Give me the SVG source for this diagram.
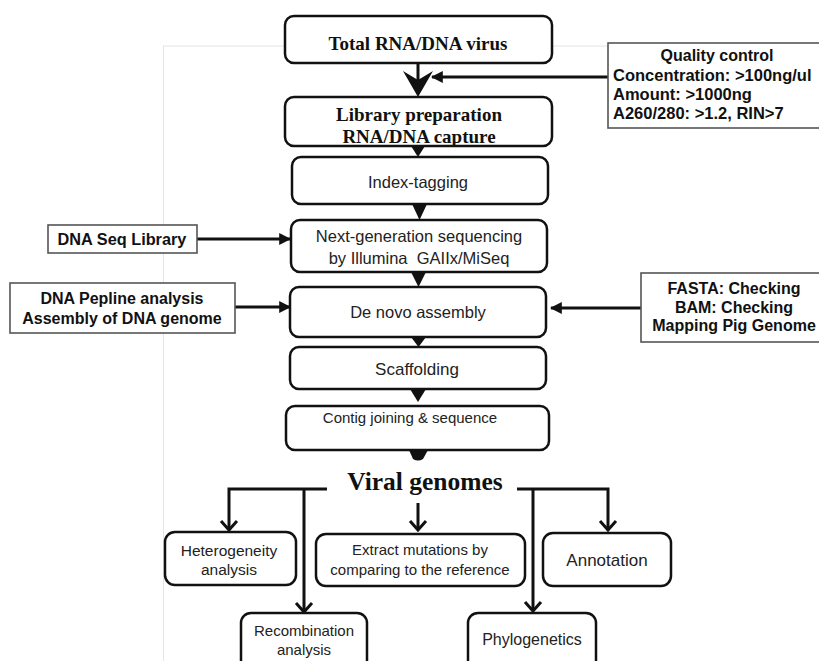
<svg xmlns="http://www.w3.org/2000/svg" width="819" height="661" viewBox="0 0 819 661">
<style>
.rb{fill:#fff;stroke:#111;stroke-width:2.5}
.sb{fill:#fff;stroke:#555;stroke-width:1.6}
.tb{font-family:"Liberation Serif",serif;font-weight:bold;fill:#111;text-anchor:middle}
.ts{font-family:"Liberation Sans",Arial,sans-serif;fill:#222;text-anchor:middle}
.tsb{font-family:"Liberation Sans",Arial,sans-serif;font-weight:bold;fill:#111}
.ln{stroke:#111;stroke-width:3;fill:none}
.chev{stroke:#111;stroke-width:3;fill:none;stroke-linejoin:miter}
.tri{fill:#111}
.art{stroke:#e4e4e4;stroke-width:1;fill:none}
</style>
<defs>
<marker id="ah" viewBox="0 0 10 10" refX="9" refY="5" markerWidth="4" markerHeight="4" orient="auto" markerUnits="strokeWidth">
<path d="M0,0 L10,5 L0,10 z" fill="#111"/>
</marker>
</defs>
<rect width="819" height="661" fill="#fff"/>
<g id="artifacts">
<path class="art" d="M163,46 H610 M163.5,46 V661"/>
</g>

<g id="connectors">
<path class="ln" d="M418,63 V80"/>
<polygon class="tri" points="403,71 418,80 433,71 418,97"/>
<path class="ln" d="M608,77 H432" marker-end="url(#ah)"/>
<polygon class="tri" points="411,146 425,146 418,157"/>
<polygon class="tri" points="412,204 427,204 419.5,220"/>
<path class="ln" d="M197,239 H290" marker-end="url(#ah)"/>
<polygon class="tri" points="411,272 426,272 418.5,287"/>
<path class="ln" d="M235,307 H290" marker-end="url(#ah)"/>
<path class="ln" d="M641,308 H551" marker-end="url(#ah)"/>
<polygon class="tri" points="411,337 426,337 418.5,347"/>
<polygon class="tri" points="410,389 426,389 418,402"/>
<path class="tri" d="M409,450 H428 L423,459 Q418,462 413,459 Z"/>
<path class="ln" d="M327,489 H229 V530 M304,489 V612"/>
<path class="ln" d="M517,489 H608 V530 M533,489 V611"/>
<path class="ln" d="M418,503 V530"/>
<path class="chev" d="M221,521 L229,530 L237,521"/>
<path class="chev" d="M296,603 L304,612 L312,603"/>
<path class="chev" d="M410,521 L418,530 L426,521"/>
<path class="chev" d="M600,521 L608,530 L616,521"/>
<path class="chev" d="M525,602 L533,611 L541,602"/>
</g>

<g id="n-total">
<rect class="rb" x="285" y="16" width="267" height="47" rx="9"/>
<text class="tb" x="418" y="50" font-size="19">Total RNA/DNA virus</text>
</g>
<g id="n-qc">
<rect class="sb" x="608" y="43" width="215" height="85"/>
<text class="tsb" x="717" y="61" font-size="16" text-anchor="middle">Quality control</text>
<text class="tsb" x="613" y="81" font-size="16.5">Concentration: &gt;100ng/ul</text>
<text class="tsb" x="613" y="100" font-size="16.5">Amount: &gt;1000ng</text>
<text class="tsb" x="613" y="119" font-size="16.5">A260/280: &gt;1.2, RIN&gt;7</text>
</g>
<g id="n-library">
<rect class="rb" x="285" y="97" width="267" height="49" rx="9"/>
<text class="tb" x="419" y="121" font-size="19">Library preparation</text>
<text class="tb" x="419" y="143" font-size="19">RNA/DNA capture</text>
</g>
<g id="n-index">
<rect class="rb" x="292" y="157" width="256" height="47" rx="9"/>
<text class="ts" x="418" y="188" font-size="16.5">Index-tagging</text>
</g>
<g id="n-dnaseq">
<rect class="sb" x="48" y="225" width="149" height="28"/>
<text class="tsb" x="122" y="245" font-size="16.3" text-anchor="middle">DNA Seq Library</text>
</g>
<g id="n-ngs">
<rect class="rb" x="291" y="220" width="256" height="52" rx="9"/>
<text class="ts" x="419" y="242" font-size="16.5">Next-generation sequencing</text>
<text class="ts" x="419" y="264" font-size="16.5" xml:space="preserve">by Illumina  GAIIx/MiSeq</text>
</g>
<g id="n-pepline">
<rect class="sb" x="10" y="283" width="225" height="50"/>
<text class="tsb" x="122" y="304" font-size="16" text-anchor="middle">DNA Pepline analysis</text>
<text class="tsb" x="122" y="324" font-size="16" text-anchor="middle">Assembly of DNA genome</text>
</g>
<g id="n-denovo">
<rect class="rb" x="290" y="287" width="256" height="50" rx="9"/>
<text class="ts" x="418" y="318" font-size="16.5">De novo assembly</text>
</g>
<g id="n-fasta">
<rect class="sb" x="641" y="273" width="182" height="69"/>
<text class="tsb" x="734" y="294" font-size="16" text-anchor="middle">FASTA: Checking</text>
<text class="tsb" x="734" y="313" font-size="16" text-anchor="middle">BAM: Checking</text>
<text class="tsb" x="734" y="331" font-size="16" text-anchor="middle">Mapping Pig Genome</text>
</g>
<g id="n-scaffolding">
<rect class="rb" x="290" y="347" width="256" height="42" rx="9"/>
<text class="ts" x="417" y="375" font-size="17">Scaffolding</text>
</g>
<g id="n-contig">
<rect class="rb" x="286" y="406" width="263" height="44" rx="9"/>
<text class="ts" x="410" y="423" font-size="15">Contig joining &amp; sequence</text>
</g>
<g id="n-viral">
<text class="tb" x="425" y="490" font-size="25.5">Viral genomes</text>
</g>
<g id="n-hetero">
<rect class="rb" x="165" y="532" width="131" height="53" rx="10"/>
<text class="ts" x="229" y="556" font-size="15.5">Heterogeneity</text>
<text class="ts" x="229" y="575" font-size="15.5">analysis</text>
</g>
<g id="n-extract">
<rect class="rb" x="316" y="534" width="209" height="52" rx="10"/>
<text class="ts" x="420" y="555" font-size="15">Extract mutations by</text>
<text class="ts" x="420" y="575" font-size="15">comparing to the reference</text>
</g>
<g id="n-annotation">
<rect class="rb" x="543" y="533" width="128" height="53" rx="10"/>
<text class="ts" x="607" y="566" font-size="17">Annotation</text>
</g>
<g id="n-recomb">
<rect class="rb" x="241" y="613" width="126" height="60" rx="10"/>
<text class="ts" x="304" y="636" font-size="15">Recombination</text>
<text class="ts" x="304" y="655" font-size="15">analysis</text>
</g>
<g id="n-phylo">
<rect class="rb" x="468" y="613" width="128" height="60" rx="10"/>
<text class="ts" x="532" y="645" font-size="16">Phylogenetics</text>
</g>
</svg>
